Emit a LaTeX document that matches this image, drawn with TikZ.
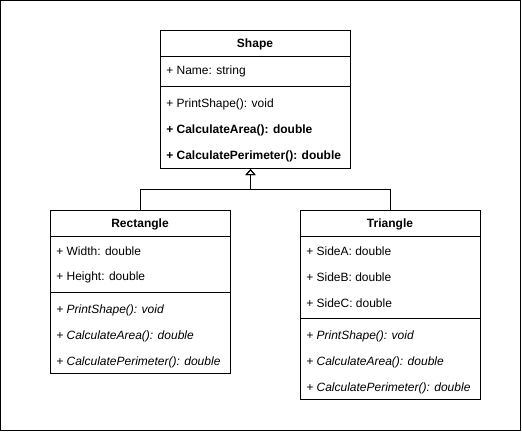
\documentclass[tikz,border=0pt]{standalone}
\usepackage{fontspec}
\setmainfont{Liberation Sans}
\usetikzlibrary{arrows.meta}
\begin{document}
\begin{tikzpicture}[x=0.75pt,y=-0.75pt,
  sepline/.style={draw=black,line width=0.75pt},
  member/.style={anchor=west,inner sep=0pt,yshift=-0.75pt,font=\fontsize{9pt}{10pt}\selectfont},
  title/.style={inner sep=0pt,yshift=-0.75pt,font=\fontsize{9pt}{10pt}\selectfont\bfseries},
  inherit/.style={draw=black,line width=0.75pt,-{Triangle[open,length=4.5pt,width=7.5pt]}}
]
\useasboundingbox (0,0) rectangle (522,432);
\draw[line width=0.75pt] (0.5,0.5) rectangle (520.5,430.5);

% Shape
\node[draw=black,line width=0.75pt,inner sep=0pt,minimum width=142.5pt,minimum height=103.5pt,anchor=north west] (shape) at (160,30) {};
\draw[sepline] (160,56.5) -- (350,56.5);
\draw[sepline] (160,86) -- (350,86);
\node[title] (shapet) at (255,43.5) {Shape};
\node[member] (s1) at (166,70.5) {+ Name: string};
\node[member] (s2) at (166,103) {+ PrintShape(): void};
\node[member,font=\fontsize{9pt}{10pt}\selectfont\bfseries] (s3) at (166,129) {+ CalculateArea(): double};
\node[member,font=\fontsize{9pt}{10pt}\selectfont\bfseries] (s4) at (166,155) {+ CalculatePerimeter(): double};

% Rectangle
\node[draw=black,line width=0.75pt,inner sep=0pt,minimum width=135pt,minimum height=122.25pt,anchor=north west] (rect) at (50,210) {};
\draw[sepline] (50,236) -- (230,236);
\draw[sepline] (50,292) -- (230,292);
\node[title] (rectt) at (140,223.5) {Rectangle};
\node[member] (r1) at (56,250) {+ Width: double};
\node[member] (r2) at (56,276) {+ Height: double};
\node[member] (r3) at (56,309) {\itshape + PrintShape(): void};
\node[member] (r4) at (56,335) {\itshape + CalculateArea(): double};
\node[member] (r5) at (56,361.5) {\itshape + CalculatePerimeter(): double};

% Triangle
\node[draw=black,line width=0.75pt,inner sep=0pt,minimum width=135pt,minimum height=141.75pt,anchor=north west] (tri) at (300,210) {};
\draw[sepline] (300,236) -- (480,236);
\draw[sepline] (300,318) -- (480,318);
\node[title] (trit) at (390,223.5) {Triangle};
\node[member] (t1) at (306,250) {+ SideA: double};
\node[member] (t2) at (306,276) {+ SideB: double};
\node[member] (t3) at (306,302) {+ SideC: double};
\node[member] (t4) at (306,335) {\itshape + PrintShape(): void};
\node[member] (t5) at (306,361) {\itshape + CalculateArea(): double};
\node[member] (t6) at (306,387) {\itshape + CalculatePerimeter(): double};

% Inheritance
\coordinate (junc) at (250.5,189);
\draw[inherit] (rect.north) |- (junc) -- (junc |- shape.south);
\draw[inherit] (tri.north) |- (junc) -- (junc |- shape.south);
\end{tikzpicture}
\end{document}
